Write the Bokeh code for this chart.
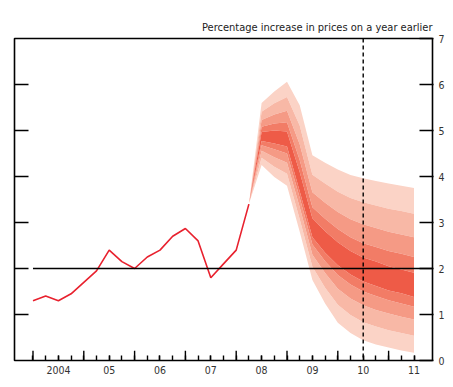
from bokeh.plotting import figure
from bokeh.models import ColumnDataSource, Range1d, LinearAxis, FixedTicker, Span
from bokeh.embed import file_html
from bokeh.resources import INLINE

# ---- data ----
# historical CPI inflation, quarterly (2004 Q1 .. 2008 Q2)
hist_t = [2004.0, 2004.25, 2004.5, 2004.75, 2005.0, 2005.25, 2005.5, 2005.75,
          2006.0, 2006.25, 2006.5, 2006.75, 2007.0, 2007.25, 2007.5, 2007.75,
          2008.0, 2008.25]
hist_v = [1.3, 1.4, 1.3, 1.45, 1.7, 1.95, 2.4, 2.15, 2.0, 2.25, 2.4, 2.7,
          2.87, 2.6, 1.8, 2.1, 2.4, 3.4]

# fan chart: projection quarters and band boundaries
fan_t = [2008.25, 2008.5, 2008.75, 2009.0, 2009.25, 2009.5, 2009.75, 2010.0,
         2010.25, 2010.5, 2010.75, 2011.0, 2011.25, 2011.5]
fan_top = [3.4, 5.6, 5.85, 6.06, 5.55, 4.46, 4.3, 4.15, 4.03, 3.96, 3.9, 3.85, 3.8, 3.75]
fan_u4 = [3.4, 5.41, 5.59, 5.73, 5.11, 4.04, 3.85, 3.67, 3.53, 3.44, 3.37, 3.30, 3.25, 3.19]
fan_u3 = [3.4, 5.23, 5.35, 5.43, 4.70, 3.66, 3.43, 3.23, 3.07, 2.96, 2.88, 2.80, 2.74, 2.68]
fan_u2 = [3.4, 5.08, 5.15, 5.18, 4.36, 3.33, 3.08, 2.86, 2.68, 2.55, 2.47, 2.38, 2.32, 2.25]
fan_u1 = [3.4, 4.97, 5.0, 4.98, 4.10, 3.09, 2.81, 2.57, 2.38, 2.24, 2.15, 2.05, 1.98, 1.91]
fan_l1 = [3.4, 4.77, 4.72, 4.65, 3.68, 2.68, 2.34, 2.07, 1.87, 1.72, 1.62, 1.52, 1.46, 1.38]
fan_l2 = [3.4, 4.68, 4.59, 4.50, 3.54, 2.52, 2.16, 1.86, 1.65, 1.50, 1.40, 1.31, 1.24, 1.17]
fan_l3 = [3.4, 4.56, 4.42, 4.30, 3.33, 2.30, 1.90, 1.56, 1.35, 1.20, 1.10, 1.02, 0.95, 0.89]
fan_l4 = [3.4, 4.41, 4.21, 4.06, 3.07, 2.04, 1.58, 1.21, 0.99, 0.83, 0.74, 0.66, 0.60, 0.54]
fan_bot = [3.4, 4.25, 3.99, 3.80, 2.80, 1.75, 1.24, 0.82, 0.60, 0.44, 0.35, 0.28, 0.22, 0.17]

target = 2.0
horizon = 2010.5

quarter_ticks = [2004 + 0.25 * i for i in range(31)]
year_ticks = [2004, 2005, 2006, 2007, 2008, 2009, 2010, 2011]
year_label_pos = [2004.5, 2005.5, 2006.5, 2007.5, 2008.5, 2009.5, 2010.5, 2011.5]
year_labels = ["2004", "05", "06", "07", "08", "09", "10", "11"]
y_ticks = [0, 1, 2, 3, 4, 5, 6, 7]

FONT = "DejaVu Sans Condensed"

X0, X1 = 2003.636, 2011.864
p = figure(width=453, height=387, output_backend="svg", toolbar_location=None,
           x_range=Range1d(X0, X1), y_range=Range1d(0, 7),
           x_axis_location=None, y_axis_location=None,
           min_border_left=14, min_border_right=21, min_border_top=38,
           min_border_bottom=27)
p.grid.visible = False
p.outline_line_color = "black"
p.outline_line_width = 1.6
p.background_fill_color = "white"
p.border_fill_color = "white"

p.title.text = "Percentage increase in prices on a year earlier"
p.title.align = "right"
p.title.text_font = FONT
p.title.text_font_size = "11px"
p.title.text_font_style = "normal"
p.title.text_color = "#222222"

# fan
src = ColumnDataSource(dict(t=fan_t, top=fan_top, u4=fan_u4, u3=fan_u3, u2=fan_u2,
                            u1=fan_u1, l1=fan_l1, l2=fan_l2, l3=fan_l3, l4=fan_l4,
                            bot=fan_bot))
shades = ["#fbd3c6", "#f8b8a6", "#f59a85", "#f27c66", "#ee5b47"]
pairs = [("u4", "top", 0), ("l4", "bot", 0), ("u3", "u4", 1), ("l3", "l4", 1),
         ("u2", "u3", 2), ("l2", "l3", 2), ("u1", "u2", 3), ("l1", "l2", 3),
         ("l1", "u1", 4)]
for a, b, k in pairs:
    p.varea(x="t", y1=a, y2=b, source=src, fill_color=shades[k], fill_alpha=1.0)

# history
p.line(hist_t, hist_v, line_color="#e8212e", line_width=1.6)

# target line
p.line([hist_t[0], X1], [target, target], line_color="black", line_width=1.4)

# horizon
p.add_layout(Span(location=horizon, dimension="height", line_color="black",
                  line_width=1.4, line_dash="4 3"))

# longer year-boundary ticks on the time axis
p.segment(x0=year_ticks, x1=year_ticks, y0=[0] * len(year_ticks),
          y1=[0.21] * len(year_ticks), line_color="black", line_width=1.4)

# axes
xa = LinearAxis(ticker=FixedTicker(ticks=year_label_pos, minor_ticks=quarter_ticks))
xa.major_label_overrides = {pos: lab for pos, lab in zip(year_label_pos, year_labels)}
xa.axis_line_color = None
xa.major_tick_in = 5
xa.major_tick_out = 0
xa.minor_tick_in = 5
xa.minor_tick_out = 0
xa.major_tick_line_width = 1.4
xa.minor_tick_line_width = 1.4
xa.major_label_standoff = 5
xa.major_label_text_font = FONT
xa.major_label_text_font_size = "10.5px"
xa.major_label_text_color = "#333333"
p.add_layout(xa, "below")

ya = LinearAxis(ticker=FixedTicker(ticks=y_ticks))
ya.axis_line_color = None
ya.major_tick_in = 13
ya.major_tick_out = 1
ya.major_tick_line_width = 1.4
ya.major_label_standoff = 5
ya.major_label_text_font = FONT
ya.major_label_text_font_size = "10.5px"
ya.major_label_text_color = "#333333"
p.add_layout(ya, "right")

yl = LinearAxis(ticker=FixedTicker(ticks=y_ticks[1:-1]))
yl.axis_line_color = None
yl.major_tick_in = 14
yl.major_tick_out = 0
yl.major_tick_line_width = 1.4
yl.major_label_text_color = None
yl.major_label_text_font_size = "1px"
yl.major_label_standoff = 0
p.add_layout(yl, "left")

open("out.html", "w").write(file_html(p, INLINE))
